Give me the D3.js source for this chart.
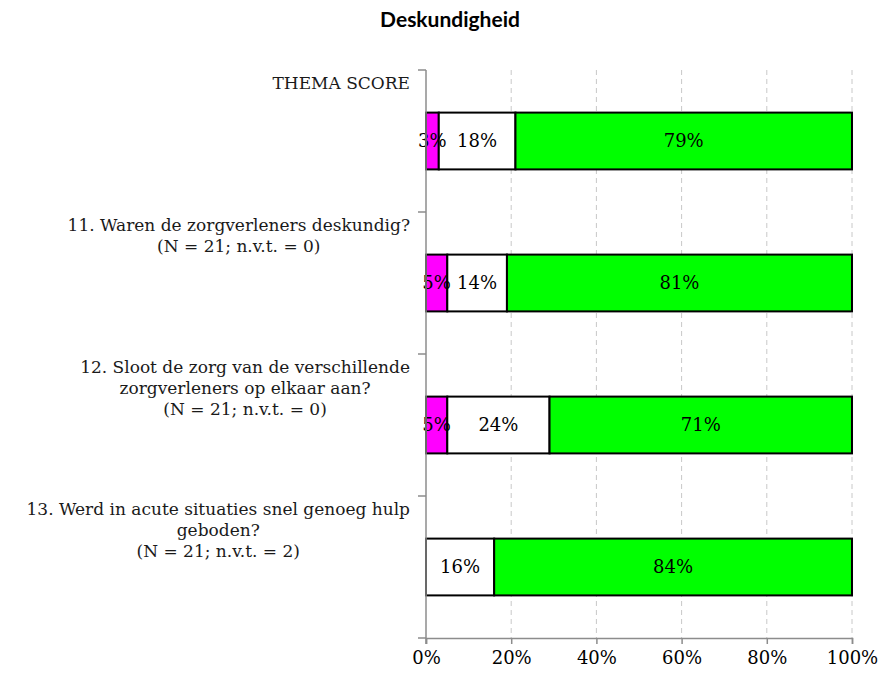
<!DOCTYPE html>
<html>
<head>
<meta charset="utf-8">
<script src="https://cdn.jsdelivr.net/npm/d3@7"></script>
<style>
  body { margin: 0; background: #fff; }
  svg { display: block; }
</style>
</head>
<body>
<script>
const width = 884
const height = 675
const margin = {top: 70, right: 32, bottom: 37, left: 426}

const categories = [
  ["THEMA SCORE"],
  ["11. Waren de zorgverleners deskundig?", "(N = 21; n.v.t. = 0)"],
  ["12. Sloot de zorg van de verschillende", "zorgverleners op elkaar aan?", "(N = 21; n.v.t. = 0)"],
  ["13. Werd in acute situaties snel genoeg hulp", "geboden?", "(N = 21; n.v.t. = 2)"]
]
const negative = [3, 5, 5, 0]
const neutral = [18, 14, 24, 16]
const positive = [79, 81, 71, 84]
const seriesColors = ["#ff00ff", "#ffffff", "#00ff00"]
const xTicks = [0, 20, 40, 60, 80, 100]

const serif = "'DejaVu Serif', serif"

const svg = d3.select("body").append("svg")
  .attr("width", width)
  .attr("height", height)

const x = d3.scaleLinear()
  .domain([0, 100])
  .range([margin.left, width - margin.right])

const y = d3.scaleBand()
  .domain(d3.range(categories.length))
  .range([margin.top, height - margin.bottom])
  .paddingInner(0.6)
  .paddingOuter(0.3)

const band = (height - margin.bottom - margin.top) / categories.length

// title
svg.append("text")
  .attr("x", 450)
  .attr("y", 27)
  .attr("text-anchor", "middle")
  .style("font", "bold 21px Lato, sans-serif")
  .text("Deskundigheid")

// grid
svg.append("g")
  .selectAll("line")
  .data(xTicks.slice(1))
  .join("line")
  .attr("x1", d => x(d)).attr("x2", d => x(d))
  .attr("y1", margin.top).attr("y2", height - margin.bottom)
  .attr("stroke", "#c8c8c8")
  .attr("stroke-dasharray", "5,4")

// stacked bars
const rows = categories.map((c, i) => [negative[i], neutral[i], positive[i]])
rows.forEach((vals, i) => {
  let acc = 0
  vals.forEach((v, j) => {
    const x0 = acc
    acc += v
    if (v === 0) return
    svg.append("rect")
      .attr("x", x(x0))
      .attr("y", y(i))
      .attr("width", x(acc) - x(x0))
      .attr("height", y.bandwidth())
      .attr("fill", seriesColors[j])
      .attr("stroke", "#000")
      .attr("stroke-width", 2)
  })
})
rows.forEach((vals, i) => {
  let acc = 0
  vals.forEach((v, j) => {
    const x0 = acc
    acc += v
    if (v === 0) return
    svg.append("text")
      .attr("x", (x(x0) + x(acc)) / 2)
      .attr("y", y(i) + y.bandwidth() / 2)
      .attr("dy", "0.35em")
      .attr("text-anchor", "middle")
      .style("font", `18px ${serif}`)
      .text(v + "%")
  })
})

// left axis
const yAxis = svg.append("g")
yAxis.append("line")
  .attr("x1", margin.left).attr("x2", margin.left)
  .attr("y1", margin.top).attr("y2", height - margin.bottom + 6)
  .attr("stroke", "#8c8c8c").attr("stroke-width", 1.5)
yAxis.selectAll(".tk")
  .data(d3.range(categories.length + 1))
  .join("line")
  .attr("x1", margin.left - 8).attr("x2", margin.left)
  .attr("y1", d => margin.top + d * band).attr("y2", d => margin.top + d * band)
  .attr("stroke", "#8c8c8c").attr("stroke-width", 1.5)

// bottom axis
const xAxis = svg.append("g")
  .attr("transform", `translate(0,${height - margin.bottom})`)
  .call(d3.axisBottom(x).tickValues(xTicks).tickFormat(d => d + "%").tickSize(6).tickPadding(7))
xAxis.select(".domain").attr("stroke", "#8c8c8c").attr("stroke-width", 1.5)
xAxis.selectAll(".tick line").attr("stroke", "#8c8c8c").attr("stroke-width", 1.5)
xAxis.selectAll("text").style("font", `18px ${serif}`).attr("fill", "#000")

// category labels
categories.forEach((lines, i) => {
  const g = svg.append("g")
  const t = g.selectAll("text")
    .data(lines)
    .join("text")
    .attr("y", (d, k) => margin.top + i * band + 19 + k * 21)
    .attr("text-anchor", "middle")
    .style("font", `17px ${serif}`)
    .attr("fill", "#1a1a1a")
    .text(d => d)
  const w = d3.max(t.nodes(), n => n.getComputedTextLength())
  t.attr("x", 410 - w / 2)
})
</script>
</body>
</html>
